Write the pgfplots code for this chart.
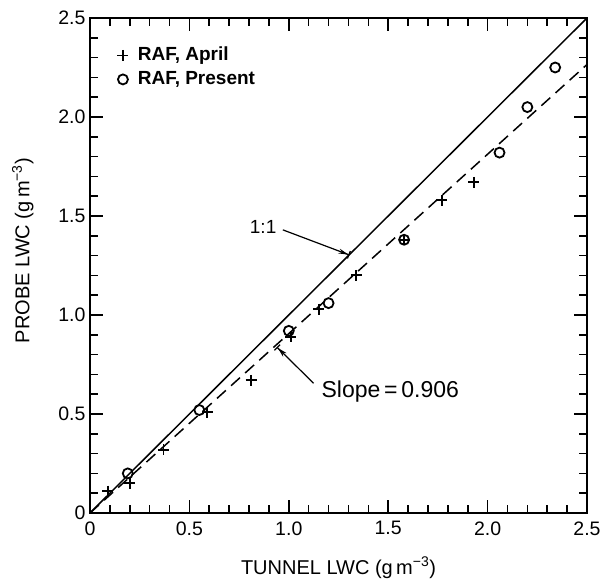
\documentclass[border=0pt]{standalone}
\usepackage{fontspec}
\setmainfont{Liberation Sans}
\usepackage{pgfplots}
\pgfplotsset{compat=1.18}
\usetikzlibrary{arrows.meta}

\begin{document}
\begin{tikzpicture}
\path[use as bounding box] (-90pt,-67pt) rectangle (521pt,513pt);
\begin{axis}[
  at={(0pt,0pt)}, anchor=south west,
  scale only axis, width=497pt, height=495pt,
  xmin=0, xmax=2.5, ymin=0, ymax=2.5,
  xtick={0,0.5,1,1.5,2,2.5}, ytick={0,0.5,1,1.5,2,2.5},
  xticklabels={0,0.5,1.0,1.5,2.0,2.5},
  yticklabels={0,0.5,1.0,1.5,2.0,2.5},
  minor tick num=4,
  tick align=inside,
  major tick length=13pt, minor tick length=8pt,
  axis line style={line width=2pt},
  every tick/.style={line width=1.6pt, black},
  /pgf/number format/assume math mode=true,
  tick label style={font=\fontsize{19.5}{21}\selectfont},
  xticklabel style={yshift=-5pt},
  yticklabel style={xshift=-1pt},
  every axis x label/.style={at={(axis description cs:0.5,-0.111)}, anchor=center},
  every axis y label/.style={at={(axis description cs:-0.135,0.53)}, rotate=90, anchor=center},
  label style={font=\fontsize{20}{22}\selectfont},
  xlabel={TUNNEL LWC (g\,m\textsuperscript{−3})},
  ylabel={PROBE LWC (g\,m\textsuperscript{−3})},
  legend image code/.code={\path (-6pt,0pt) (13pt,0pt); \draw[#1] plot coordinates {(0pt,0pt)};},
  legend style={draw=none, fill=none, inner sep=0pt, at={(0.052,0.945)}, anchor=north west,
    font=\fontsize{19}{21}\selectfont\bfseries, row sep=4pt,
    nodes={inner sep=1pt, text height=14pt, text depth=4pt}},
  legend cell align=left,
]
\addplot[only marks, mark=+, mark size=5.5pt, line width=1.8pt] coordinates {
(0.09,0.11) (0.20,0.15) (0.37,0.32) (0.59,0.51) (0.81,0.67) (1.01,0.89)
(1.15,1.03) (1.34,1.20) (1.58,1.38) (1.77,1.58) (1.93,1.67)};
\addlegendentry{RAF, April}
\addplot[only marks, mark=o, mark size=5pt, line width=1.8pt] coordinates {
(0.19,0.20) (0.55,0.52) (1.00,0.92) (1.20,1.06) (1.58,1.38) (2.06,1.82)
(2.20,2.05) (2.34,2.25)};
\addlegendentry{RAF, Present}
\addplot[line width=1.5pt, forget plot] coordinates {(0,0) (2.5,2.5)};
\addplot[line width=1.5pt, dash pattern=on 12pt off 7pt, forget plot] coordinates {(0,0) (2.5,2.265)};
\node[font=\fontsize{19}{21}\selectfont, anchor=east] at (axis cs:0.955,1.445) {1:1};
\draw[line width=1.2pt, -{Stealth[length=10pt,width=5pt]Bar[width=8pt]}] (axis cs:0.97,1.43) -- (axis cs:1.305,1.303);
\draw[line width=1.2pt, -{Stealth[length=10pt,width=5pt]Bar[width=8pt]}] (axis cs:1.125,0.655) -- (axis cs:0.94,0.838);
\node[font=\fontsize{23}{25}\selectfont, anchor=west] at (axis cs:1.147,0.611) {Slope\,=\,0.906};
\end{axis}
\end{tikzpicture}
\end{document}
